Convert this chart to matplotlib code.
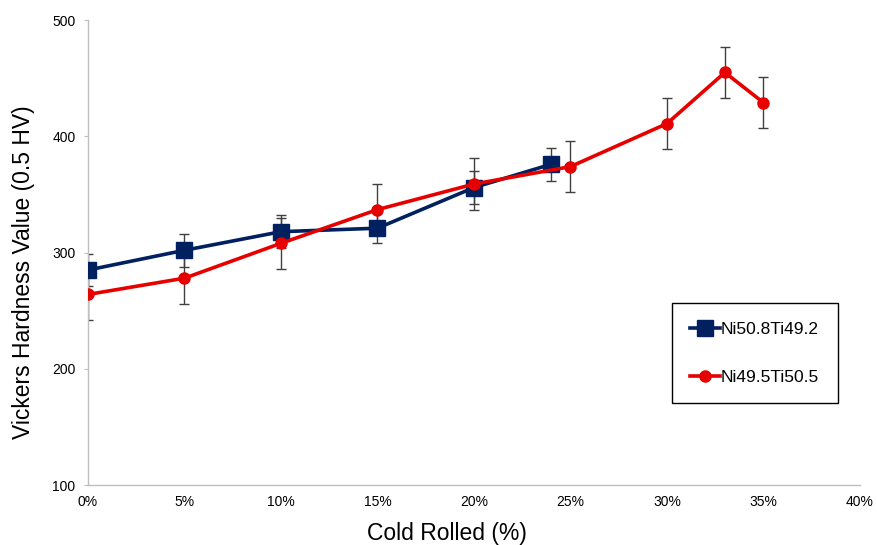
import matplotlib
matplotlib.use('Agg')
import matplotlib.pyplot as plt
from matplotlib.ticker import FuncFormatter

plt.rcParams['font.family'] = ['Liberation Sans', 'DejaVu Sans']

# hardness vs. cold rolling reduction
x_a = [0, 5, 10, 15, 20, 24]
hv_a = [285, 302, 318, 321, 356, 376]
err_a = [14, 14, 14, 13, 14, 14]

x_b = [0, 5, 10, 15, 20, 25, 30, 33, 35]
hv_b = [264, 278, 308, 337, 359, 374, 411, 455, 429]
err_b = [22, 22, 22, 22, 22, 22, 22, 22, 22]

label_a = 'Ni50.8Ti49.2'
label_b = 'Ni49.5Ti50.5'

navy = '#002060'
red = '#e60000'
grey = '#bfbfbf'

fig = plt.figure(figsize=(8.77, 5.45), dpi=100)
ax = fig.add_axes([0.1003, 0.110, 0.8803, 0.853])

ax.errorbar(x_a, hv_a, yerr=err_a, fmt='none', ecolor='#404040',
            elinewidth=1, capsize=3.5, capthick=1, zorder=2)
ax.errorbar(x_b, hv_b, yerr=err_b, fmt='none', ecolor='#404040',
            elinewidth=1, capsize=3.5, capthick=1, zorder=2)
ax.plot(x_a, hv_a, color=navy, lw=2.6, marker='s', ms=11,
        mfc=navy, mec=navy, label=label_a, zorder=3)
ax.plot(x_b, hv_b, color=red, lw=2.6, marker='o', ms=8,
        mfc=red, mec=red, label=label_b, zorder=4)

ax.set_xlim(0, 40)
ax.set_ylim(100, 500)
ax.set_xticks(range(0, 41, 5))
ax.set_yticks(range(100, 501, 100))
ax.xaxis.set_major_formatter(FuncFormatter(lambda v, p: '%d%%' % v))

for side in ['top', 'right']:
    ax.spines[side].set_visible(False)
for side in ['left', 'bottom']:
    ax.spines[side].set_color(grey)
    ax.spines[side].set_linewidth(1)
ax.tick_params(axis='y', length=3, color=grey, labelsize=10, pad=6)
ax.tick_params(axis='x', length=0, labelsize=10, pad=7)

ax.set_xlabel('Cold Rolled (%)', fontsize=16.5)
ax.set_ylabel('Vickers Hardness Value (0.5 HV)', fontsize=16.5)
ax.xaxis.set_label_coords(0.465, -0.08)
ax.yaxis.set_label_coords(-0.069, 0.458)

leg = ax.legend(loc='upper left', bbox_to_anchor=(0.756, 0.391),
                borderaxespad=0, frameon=True, fancybox=False,
                fontsize=12.5, handlelength=1.75, handletextpad=0.05,
                labelspacing=1.9, borderpad=1.05, numpoints=1)
leg.get_frame().set_edgecolor('black')
leg.get_frame().set_linewidth(1)
leg.get_frame().set_alpha(1)

fig.savefig('out.png', dpi=100)
